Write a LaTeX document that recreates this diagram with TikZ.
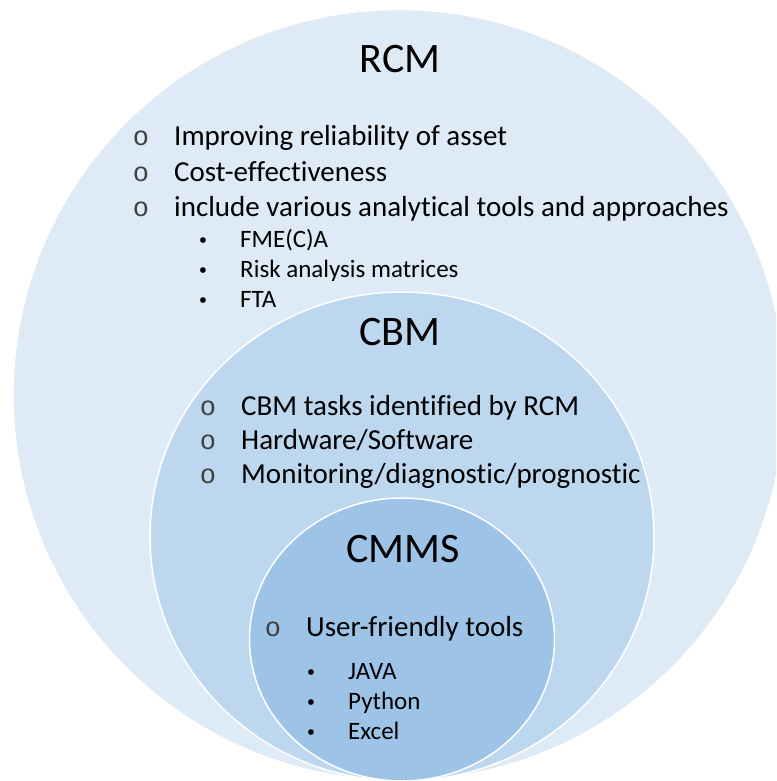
\documentclass[tikz,border=0pt]{standalone}
\usepackage{fontspec}
\setmainfont{Carlito}[Ligatures=NoCommon]
\newfontfamily\monofnt{Liberation Mono}
\newfontfamily\dotfnt{Liberation Sans}
\usetikzlibrary{shapes.geometric}
\definecolor{outerc}{HTML}{DEEAF6}
\definecolor{midc}{HTML}{BDD7EE}
\definecolor{innerc}{HTML}{9DC3E6}
\tikzset{
  ring/.style={ellipse, draw=white, line width=1.5pt, inner sep=0pt},
  title/.style={inner sep=0pt, anchor=base, font=\fontsize{42}{46}\selectfont},
  lone/.style={inner sep=0pt, anchor=base west, font=\fontsize{29}{33}\selectfont},
  ltwo/.style={inner sep=0pt, anchor=base west, font=\fontsize{25}{29}\selectfont},
  bulo/.style={inner sep=0pt, anchor=base, font=\monofnt\fontsize{27}{31}\selectfont, text=black!75},
  buld/.style={inner sep=0pt, anchor=base, font=\dotfnt\fontsize{21}{25}\selectfont},
}
\begin{document}
\begin{tikzpicture}[x=1pt,y=-1pt]
\useasboundingbox (0,0) rectangle (776,781);
\clip (0,0) rectangle (776,781);
\node[ring, fill=outerc, minimum width=772pt, minimum height=771pt] (outer) at (399,395) {};
\node[ring, fill=midc, minimum width=504pt, minimum height=489pt] (mid) at (402,536.5) {};
\node[ring, fill=innerc, minimum width=305pt, minimum height=283pt] (inner) at (402,639.5) {};

\node[title] (trcm) at (400,73) {RCM};
\node[bulo] (b1) at (141,146) {o};
\node[lone] (t1) at (174,146) {Improving reliability of asset};
\node[bulo] (b2) at (141,181) {o};
\node[lone] (t2) at (174,181) {Cost-effectiveness};
\node[bulo] (b3) at (141,216) {o};
\node[lone] (t3) at (174,216) {include various analytical tools and approaches};
\node[buld] (d1) at (203,247) {•};
\node[ltwo] (s1) at (240,247) {FME(C)A};
\node[buld] (d2) at (203,277) {•};
\node[ltwo] (s2) at (240,277) {Risk analysis matrices};
\node[buld] (d3) at (203,307) {•};
\node[ltwo] (s3) at (240,307) {FTA};

\node[title] (tcbm) at (400,345) {CBM};
\node[bulo] (c1b) at (208,415) {o};
\node[lone] (c1) at (241,415) {CBM tasks identified by RCM};
\node[bulo] (c2b) at (208,449) {o};
\node[lone] (c2) at (241,449) {Hardware/Software};
\node[bulo] (c3b) at (208,483) {o};
\node[lone] (c3) at (241,483) {Monitoring/diagnostic/prognostic};

\node[title] (tcmms) at (403,562) {CMMS};
\node[bulo] (u1b) at (273,636) {o};
\node[lone] (u1) at (306,636) {User-friendly tools};
\node[buld] (j1b) at (311,679) {•};
\node[ltwo] (j1) at (348,679) {JAVA};
\node[buld] (j2b) at (311,709) {•};
\node[ltwo] (j2) at (348,709) {Python};
\node[buld] (j3b) at (311,739) {•};
\node[ltwo] (j3) at (348,739) {Excel};
\end{tikzpicture}
\end{document}
